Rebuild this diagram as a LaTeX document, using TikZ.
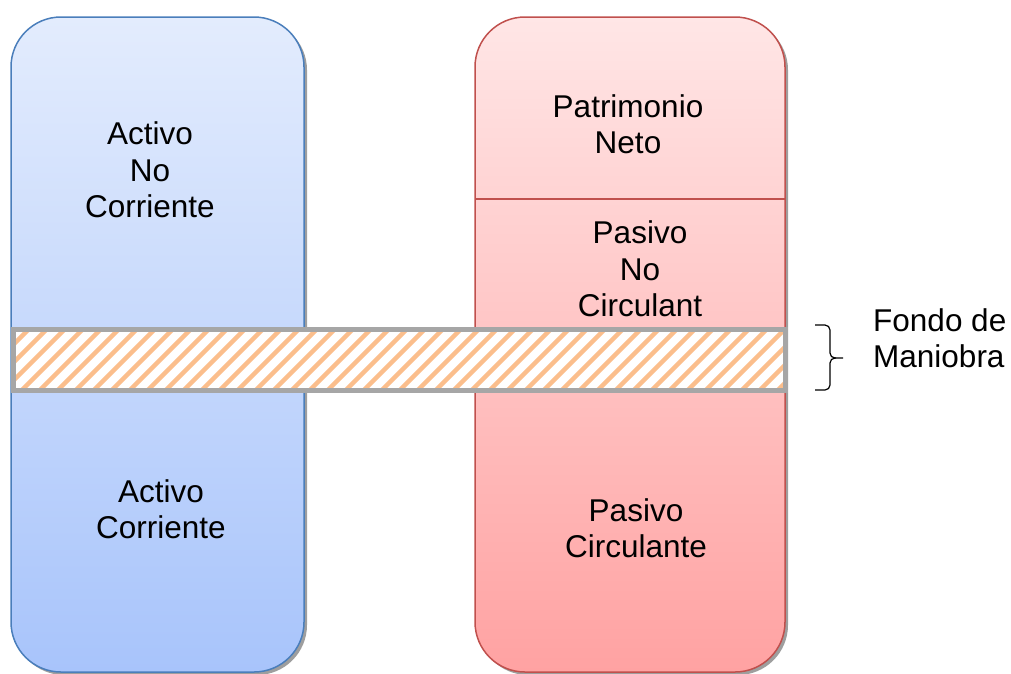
\documentclass[tikz,border=0pt]{standalone}
\usepackage{fontspec}
\setmainfont{Liberation Sans}
\definecolor{blueline}{HTML}{4A7EBB}
\definecolor{bluetop}{HTML}{E3ECFD}
\definecolor{bluebot}{HTML}{A8C4FB}
\definecolor{redline}{HTML}{C0504D}
\definecolor{redtop}{HTML}{FFE6E6}
\definecolor{redbot}{HTML}{FFA2A2}
\definecolor{bandline}{HTML}{A6A6A6}
\definecolor{stripe}{HTML}{FBBE8C}
\begin{document}
\begin{tikzpicture}[x=1pt,y=-1pt,
    txt/.style={align=center,font=\fontsize{31.5}{36.5}\selectfont,inner sep=0pt},
    shadowbox/.style={fill=black!38,rounded corners=50pt},
    column/.style={line width=1.5pt,rounded corners=50pt}]
  \useasboundingbox (0,0) rectangle (1011,673);
  % shadows
  \fill[shadowbox] (14,20) rectangle (307,675);
  \fill[shadowbox] (478,20) rectangle (788,675);
  % columns
  \draw[column,draw=blueline,top color=bluetop,bottom color=bluebot] (11,17) rectangle (304,672);
  \draw[column,draw=redline,top color=redtop,bottom color=redbot] (475,17) rectangle (785,672);
  \draw[redline,line width=1.5pt] (475,199) -- (785,199);
  % fondo de maniobra band
  \fill[white] (13.5,329.5) rectangle (785.5,390.5);
  \begin{scope}
    \clip (13.5,329.5) rectangle (785.5,390.5);
    \foreach \x in {-60,-42,...,800}
      \draw[stripe,line width=4.5pt] (\x,400) -- ++(80,-80);
  \end{scope}
  \draw[bandline,line width=5pt] (13.5,329.5) rectangle (785.5,390.5);
  % brace
  \draw[line width=1.2pt,rounded corners=5pt] (815,325) -- (830,325) -- (830,358) -- (843,358);
  \draw[line width=1.2pt,rounded corners=5pt] (815,390) -- (830,390) -- (830,358) -- (836,358);
  % labels
  \node[txt] (anc) at (150,170) {Activo\\No\\Corriente};
  \node[txt] (ac) at (161,509) {Activo\\Corriente};
  \node[txt] (pn) at (628,124) {Patrimonio\\Neto};
  \node[txt] (pnc) at (640,269) {Pasivo\\No\\Circulant};
  \node[txt] (pc) at (636,528) {Pasivo\\Circulante};
  \node[txt,align=left,anchor=west] (fm) at (873,338) {Fondo de\\Maniobra};
\end{tikzpicture}
\end{document}
